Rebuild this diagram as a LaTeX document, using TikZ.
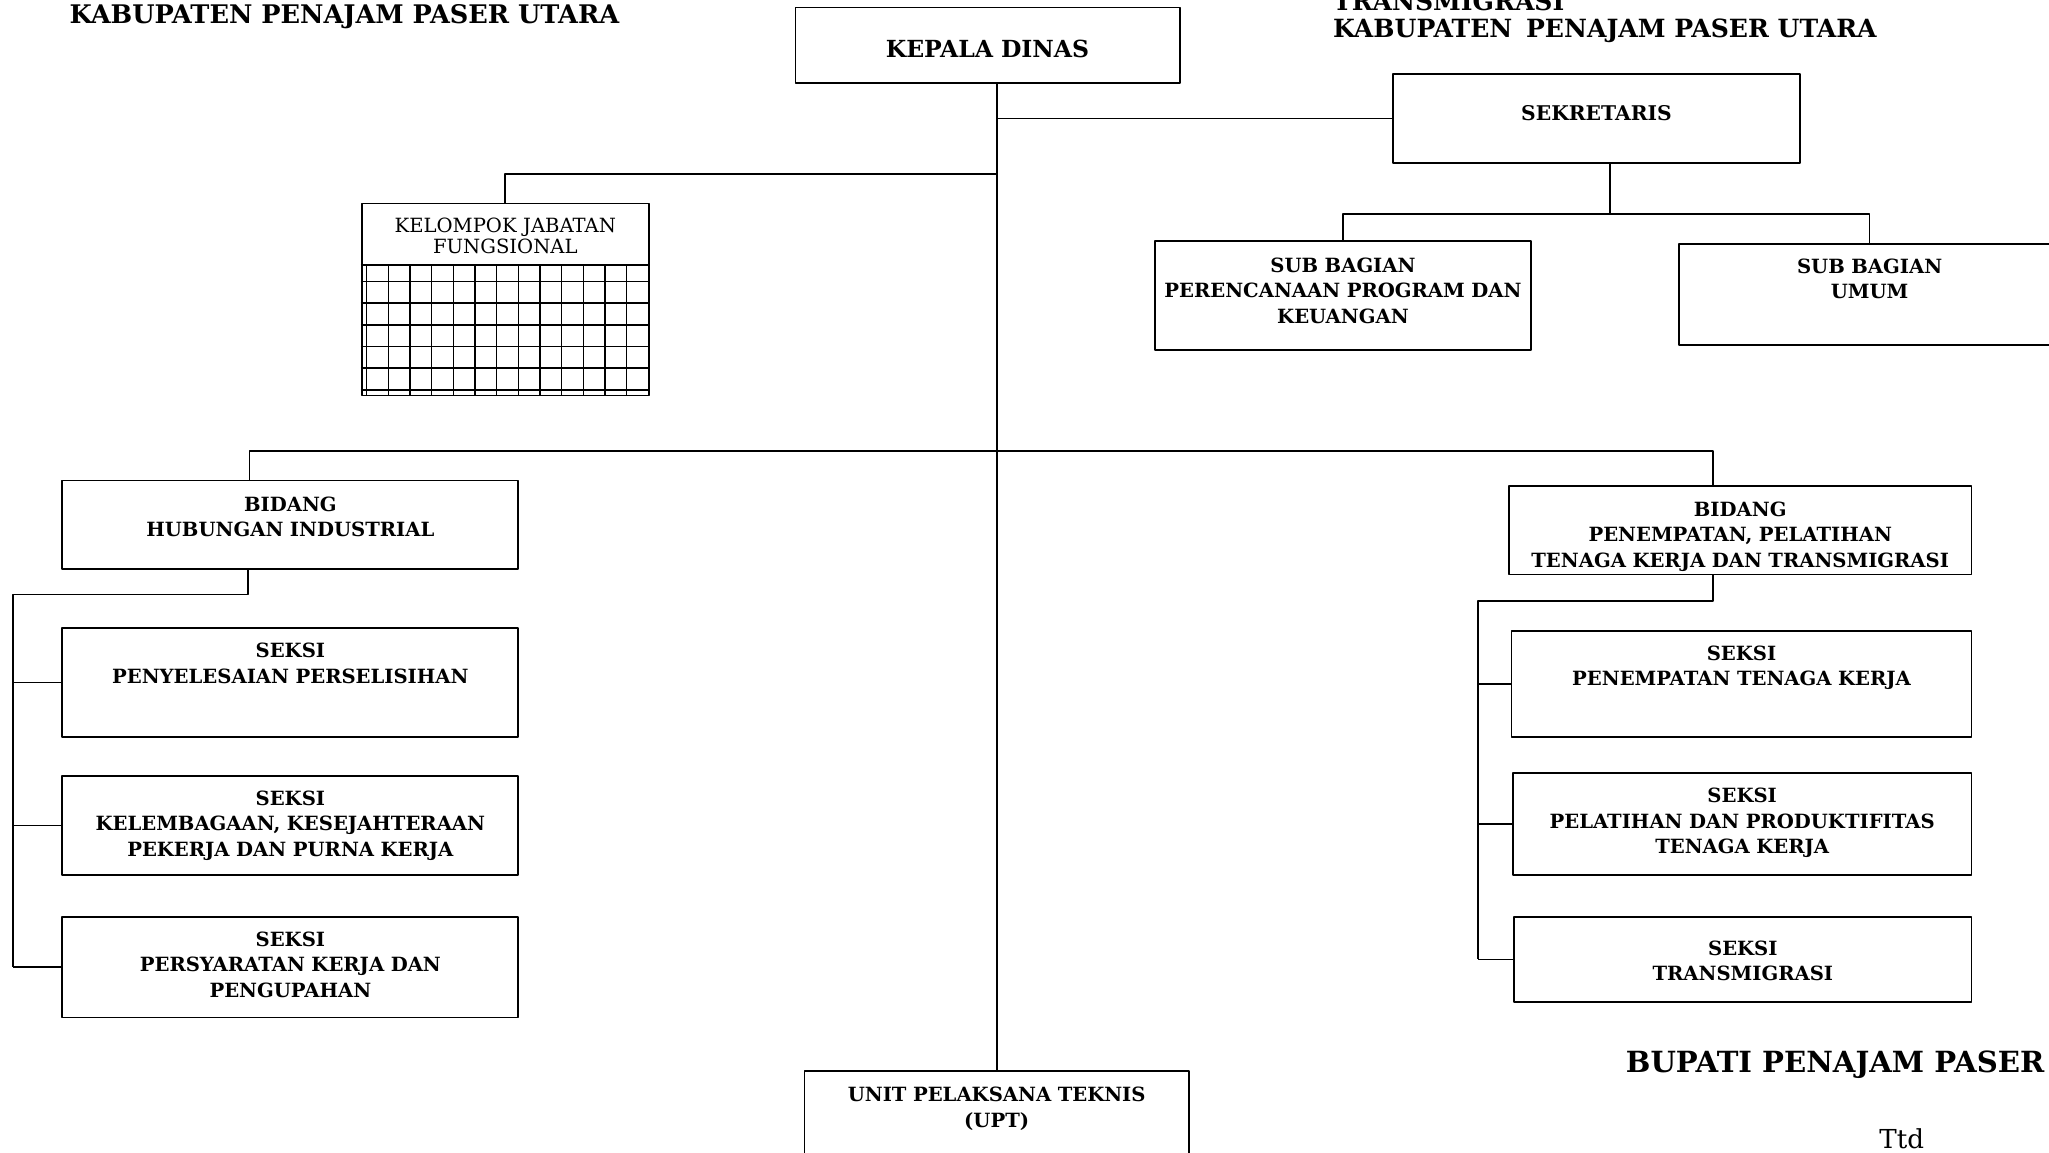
\documentclass[tikz,border=0pt]{standalone}
\usepackage{fontspec}
\setmainfont{DejaVu Serif}
\usetikzlibrary{positioning}

\begin{document}
\begin{tikzpicture}[x=1pt,y=-1pt,line join=round,
    unit/.style n args={3}{draw,line width=1.4pt,align=center,inner sep=0pt,
      text width=#1,text height=#2,text depth=#3,anchor=north west,
      font=\bfseries\fontsize{15}{19.5}\selectfont},
    link/.style={line width=1.3pt},
    gridline/.style={line width=1.2pt},
    title/.style={anchor=base west,inner sep=0pt,font=\bfseries\fontsize{19.6}{24}\selectfont}]
    \clip (0,0) rectangle (1568,882);
    \fill[white] (0,0) rectangle (1568,882);

    % headings
    \node[title] (kabL) at (53,18) {KABUPATEN PENAJAM PASER UTARA};
    \node[title,font=\bfseries\fontsize{19.2}{24}\selectfont] (trans) at (1020,8) {TRANSMIGRASI};
    \node[title,font=\bfseries\fontsize{19.2}{24}\selectfont] (kabR) at (1020,29) {KABUPATEN\hspace{0.2em} PENAJAM PASER UTARA};

    % boxes
    \node[unit={294pt}{38.5pt}{19.5pt},font=\bfseries\fontsize{18}{22}\selectfont] (kadis) at (608,5) {KEPALA DINAS};
    \node[unit={312pt}{35.5pt}{32.5pt},font=\bfseries\fontsize{15.5}{19.5}\selectfont] (sek) at (1065,56) {SEKRETARIS};
    \node[unit={288pt}{23.5pt}{59.5pt}] (sb1) at (883,184) {SUB BAGIAN\\PERENCANAAN PROGRAM DAN\\KEUANGAN};
    \node[unit={292pt}{22.5pt}{54.5pt}] (sb2) at (1284,186) {SUB BAGIAN\\UMUM};
    \node[unit={220pt}{22pt}{125pt},font=\fontsize{15}{16}\selectfont] (kjf) at (276,155) {KELOMPOK JABATAN\\FUNGSIONAL};

    \node[unit={349pt}{23.5pt}{44.5pt}] (bh) at (47,367) {BIDANG\\HUBUNGAN INDUSTRIAL};
    \node[unit={349pt}{22.5pt}{60.5pt}] (s1) at (47,480) {SEKSI\\PENYELESAIAN PERSELISIHAN};
    \node[unit={349pt}{22.5pt}{53.5pt}] (s2) at (47,593) {SEKSI\\KELEMBAGAAN, KESEJAHTERAAN\\PEKERJA DAN PURNA KERJA};
    \node[unit={349pt}{22.5pt}{54.5pt}] (s3) at (47,701) {SEKSI\\PERSYARATAN KERJA DAN\\PENGUPAHAN};

    \node[unit={354pt}{23.5pt}{44.5pt}] (bp) at (1154,371) {BIDANG\\PENEMPATAN, PELATIHAN\\TENAGA KERJA DAN TRANSMIGRASI};
    \node[unit={352pt}{22.5pt}{58.5pt}] (s4) at (1156,482) {SEKSI\\PENEMPATAN TENAGA KERJA};
    \node[unit={351pt}{22.5pt}{55.5pt}] (s5) at (1157,591) {SEKSI\\PELATIHAN DAN PRODUKTIFITAS\\TENAGA KERJA};
    \node[unit={350pt}{29.5pt}{35.5pt}] (s6) at (1158,701) {SEKSI\\TRANSMIGRASI};

    \node[unit={294pt}{23.5pt}{56.5pt}] (upt) at (615,819) {UNIT PELAKSANA TEKNIS\\(UPT)};

    % grid of the functional group
    \draw[gridline] (kjf.west |- 0,203) -- (kjf.east |- 0,203);
    \foreach \i in {0,...,12}
      \draw[gridline] (280.6+16.58*\i,203) -- (280.6+16.58*\i,302);
    \foreach \j in {0,...,5}
      \draw[gridline] (276,215.5+16.58*\j) -- (496,215.5+16.58*\j);

    % lines
    \coordinate (kjfjoin) at (762,133);
    \coordinate (sekfork) at (1232,164);
    \coordinate (hijoin) at (191,345);
    \coordinate (ptjoin) at (1311,345);
    \coordinate (hifork) at (190,455);
    \coordinate (lspine) at (10,455);
    \coordinate (ptfork) at (1311,460);
    \coordinate (rspine) at (1131,460);

    \draw[link] (kadis.south -| upt.north) -- (upt.north);
    \draw[link] (sek.west) -- (sek.west -| upt.north);
    \draw[link] (kjf.north) |- (kjfjoin);
    \draw[link] (sekfork |- sek.south) -- (sekfork);
    \draw[link] (sb1.north) |- (sekfork) -| (sb2.north);
    \draw[link] (hijoin |- bh.north) -- (hijoin) -- (ptjoin) -- (ptjoin |- bp.north);

    \draw[link] (hifork |- bh.south) -- (hifork) -- (lspine) -- (lspine |- s3.west);
    \foreach \s in {s1,s2,s3}
      \draw[link] (\s.west) -- (\s.west -| lspine);
    \draw[link] (ptfork |- bp.south) -- (ptfork) -- (rspine) -- (rspine |- s6.west);
    \foreach \s in {s4,s5,s6}
      \draw[link] (\s.west) -- (\s.west -| rspine);

    % signature
    \node[anchor=base west,inner sep=0pt,font=\bfseries\fontsize{22.3}{26}\selectfont] (bupati) at (1244,821) {BUPATI PENAJAM PASER};
    \node[anchor=base west,inner sep=0pt,font=\fontsize{20}{24}\selectfont] (ttd) at (1438,879) {Ttd};
  \end{tikzpicture}
\end{document}
